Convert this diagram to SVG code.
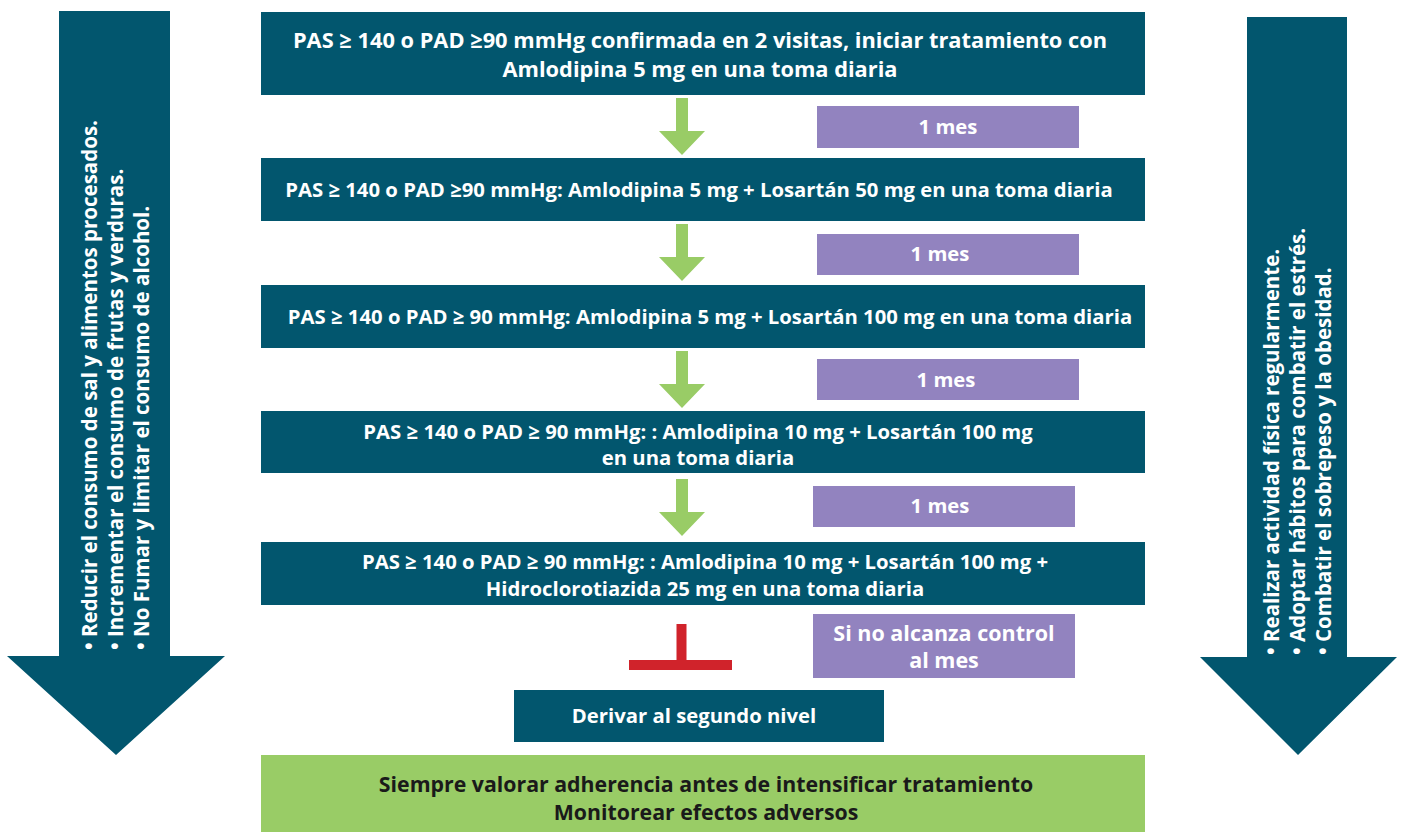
<svg xmlns="http://www.w3.org/2000/svg" width="1402" height="833" viewBox="0 0 1402 833">
<style>
.teal{fill:#02566e}
.purple{fill:#9283bf}
.green{fill:#99cc66}
text{font-family:"Open Sans","Liberation Sans",sans-serif;font-weight:700}
.w{fill:#ffffff;font-size:20.3px;text-anchor:middle}
.side{fill:#ffffff;font-size:20.5px}
.dark{fill:#1a1a1a;font-size:21.3px;text-anchor:middle}
.big{font-size:21.8px}
</style>
<defs>
<path id="garrow" d="M-6,0 H6 V33 H23 L0,57 L-23,33 H-6 Z" fill="#99cc66"/>
</defs>
<g id="left-arrow">
<path class="teal" d="M59,11 H170 V656 H225 L116,755 L7,656 H59 Z"/>
<text class="side" transform="translate(97,650) rotate(-90)">• Reducir el consumo de sal y alimentos procesados.</text>
<text class="side" transform="translate(123,650) rotate(-90)">• Incrementar el consumo de frutas y verduras.</text>
<text class="side" transform="translate(149,650) rotate(-90)">• No Fumar y limitar el consumo de alcohol.</text>
</g>
<g id="right-arrow">
<path class="teal" d="M1247,17 H1347 V657 H1397 L1298,755 L1200,657 H1247 Z"/>
<text class="side" transform="translate(1279,655) rotate(-90)">• Realizar actividad física regularmente.</text>
<text class="side" transform="translate(1305,655) rotate(-90)">• Adoptar hábitos para combatir el estrés.</text>
<text class="side" transform="translate(1331,655) rotate(-90)">• Combatir el sobrepeso y la obesidad.</text>
</g>
<g id="connectors">
<use href="#garrow" x="682" y="98"/>
<use href="#garrow" x="682" y="224"/>
<use href="#garrow" x="682" y="351"/>
<use href="#garrow" x="682" y="479"/>
<path d="M681.5,624 V665 M629,665 H732" stroke="#d0232b" stroke-width="10" fill="none"/>
</g>
<g id="step1">
<rect class="teal" x="261" y="12" width="884" height="83"/>
<text class="w big" x="700" y="48">PAS ≥ 140 o PAD ≥90 mmHg confirmada en 2 visitas, iniciar tratamiento con</text>
<text class="w big" x="700" y="77">Amlodipina 5 mg en una toma diaria</text>
</g>
<g id="mes1">
<rect class="purple" x="817" y="106" width="262" height="42"/>
<text class="w" x="948" y="134">1 mes</text>
</g>
<g id="step2">
<rect class="teal" x="261" y="158" width="884" height="63"/>
<text class="w" x="699" y="197">PAS ≥ 140 o PAD ≥90 mmHg: Amlodipina 5 mg + Losartán 50 mg en una toma diaria</text>
</g>
<g id="mes2">
<rect class="purple" x="817" y="234" width="262" height="41"/>
<text class="w" x="940" y="261">1 mes</text>
</g>
<g id="step3">
<rect class="teal" x="261" y="285" width="884" height="63"/>
<text class="w" x="710" y="324">PAS ≥ 140 o PAD ≥ 90 mmHg: Amlodipina 5 mg  + Losartán 100 mg en una toma diaria</text>
</g>
<g id="mes3">
<rect class="purple" x="817" y="359" width="262" height="41"/>
<text class="w" x="946" y="387">1 mes</text>
</g>
<g id="step4">
<rect class="teal" x="261" y="411" width="884" height="62"/>
<text class="w" x="698" y="439">PAS ≥ 140 o PAD ≥ 90 mmHg: : Amlodipina 10 mg  + Losartán 100 mg</text>
<text class="w" x="698" y="465">en una toma diaria</text>
</g>
<g id="mes4">
<rect class="purple" x="813" y="486" width="262" height="41"/>
<text class="w" x="940" y="513">1 mes</text>
</g>
<g id="step5">
<rect class="teal" x="261" y="542" width="884" height="63"/>
<text class="w" x="705" y="569">PAS ≥ 140 o PAD ≥ 90 mmHg: : Amlodipina 10 mg  + Losartán 100 mg +</text>
<text class="w" x="705" y="596">Hidroclorotiazida 25 mg en una toma diaria</text>
</g>
<g id="control">
<rect class="purple" x="813" y="614" width="262" height="64"/>
<text class="w" x="944" y="641" style="font-size:21.5px">Si no alcanza control</text>
<text class="w" x="944" y="668" style="font-size:21.5px">al mes</text>
</g>
<g id="derivar">
<rect class="teal" x="514" y="690" width="370" height="52"/>
<text class="w" x="694" y="723">Derivar al segundo nivel</text>
</g>
<g id="note">
<rect class="green" x="261" y="755" width="884" height="77"/>
<text class="dark" x="706" y="792">Siempre valorar adherencia antes de intensificar tratamiento</text>
<text class="dark" x="706" y="820">Monitorear efectos adversos</text>
</g>
</svg>
